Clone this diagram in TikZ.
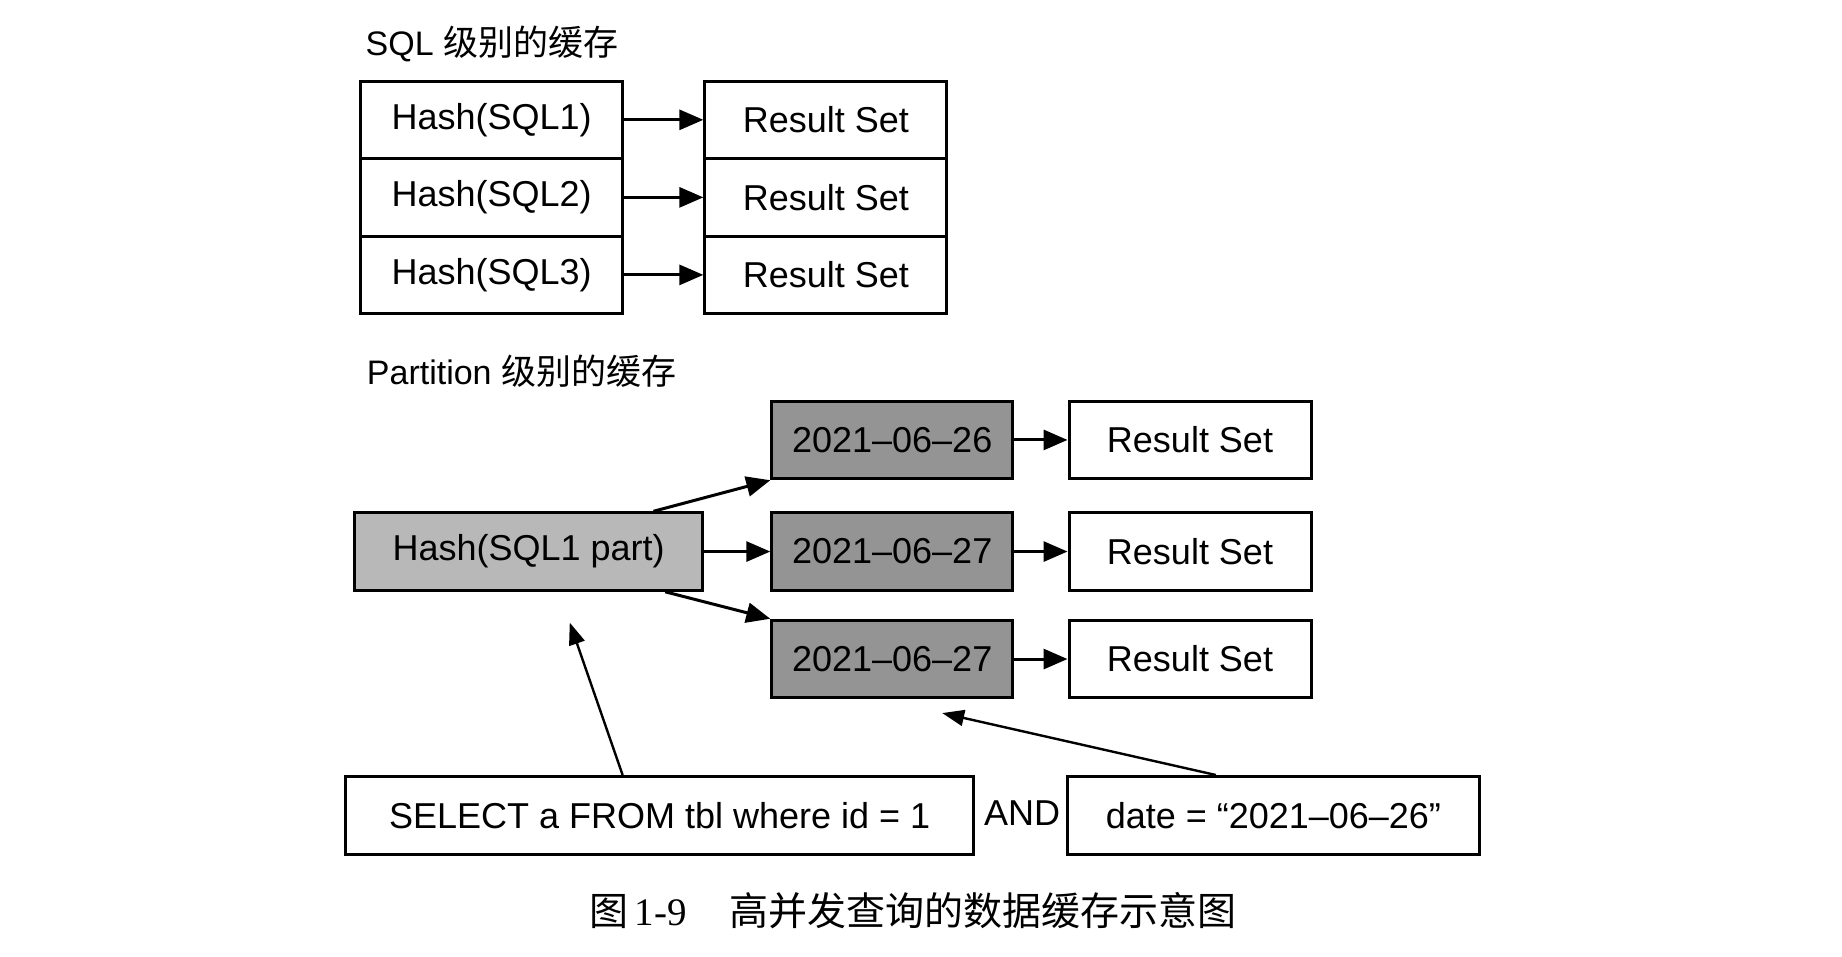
\documentclass[tikz,border=0pt]{standalone}
\usepackage{fontspec}
\setmainfont{Liberation Sans}
\newfontfamily\cjk{Noto Sans CJK SC}
\newfontfamily\serifnum{Liberation Serif}
\usetikzlibrary{arrows.meta}
\begin{document}
\def\U{0.5874pt}
\begin{tikzpicture}[x=0.5874pt,y=-0.5874pt,
  box/.style={draw=black,line width=1.5pt,inner sep=0pt,minimum height=66*\U,
    font=\fontsize{18}{20}\selectfont},
  hashbox/.style={box,minimum width=223*\U},
  resbox/.style={box,minimum width=206*\U},
  datebox/.style={box,minimum width=205*\U,fill=black!42},
  partbox/.style={box,minimum width=296*\U,fill=black!28},
  header/.style={anchor=west,inner sep=0pt,font=\fontsize{17}{19}\selectfont},
  arr/.style={line width=1.5pt,-{Triangle[length=12pt,width=10pt]}},
  thin arr/.style={line width=1.2pt,-{Triangle[length=11pt,width=8pt]}}]
\useasboundingbox (0,0) rectangle (1568,814);
% top section
\node[header] (hd1) at (311,37) {SQL {\cjk\fontsize{17.5}{19}\selectfont 级别的缓存}};
\node[hashbox] (h1) at (418.5,102) {Hash(SQL1)};
\node[hashbox] (h2) at (418.5,168) {Hash(SQL2)};
\node[hashbox] (h3) at (418.5,234) {Hash(SQL3)};
\node[resbox] (r1) at (703,102) {Result Set};
\node[resbox] (r2) at (703,168) {Result Set};
\node[resbox] (r3) at (703,234) {Result Set};
\draw[arr] (h1.east) -- (r1.west);
\draw[arr] (h2.east) -- (r2.west);
\draw[arr] (h3.east) -- (r3.west);
% bottom section
\node[header] (hd2) at (312,316) {Partition {\cjk\fontsize{17.5}{19}\selectfont 级别的缓存}};
\node[datebox] (d1) at (759.5,374.5) {2021–06–26};
\node[datebox] (d2) at (759.5,469.5) {2021–06–27};
\node[datebox] (d3) at (759.5,561) {2021–06–27};
\node[resbox] (s1) at (1013,374.5) {Result Set};
\node[resbox] (s2) at (1013,469.5) {Result Set};
\node[resbox] (s3) at (1013,561) {Result Set};
\node[partbox] (hp) at (450,469.5) {Hash(SQL1 part)};
\draw[arr] ([xshift=-43*\U]hp.north east) -- (d1.south west);
\draw[arr] (hp.east) -- (d2.west);
\draw[arr] ([xshift=-33*\U]hp.south east) -- (d3.north west);
\draw[arr] (d1.east) -- (s1.west);
\draw[arr] (d2.east) -- (s2.west);
\draw[arr] (d3.east) -- (s3.west);
% query
\node[box,minimum width=535*\U] (q1) at (561.5,694) {SELECT a FROM tbl where id = 1};
\node[inner sep=0pt,font=\fontsize{18}{20}\selectfont] (and) at (870,692) {AND};
\node[box,minimum width=350*\U] (q2) at (1084,694) {date = “2021–06–26”};
\coordinate (t1) at (485,530);
\coordinate (t2) at (802,607);
\draw[thin arr] ([xshift=-31.5*\U]q1.north) -- (t1);
\draw[thin arr] ([xshift=-49*\U]q2.north) -- (t2);
% caption
\node[inner sep=0pt,font=\fontsize{19.5}{22}\selectfont] (cap) at (777,775)
  {{\cjk 图}\,{\serifnum 1-9}\hspace{1.1em}{\cjk 高并发查询的数据缓存示意图}};
\end{tikzpicture}
\end{document}
